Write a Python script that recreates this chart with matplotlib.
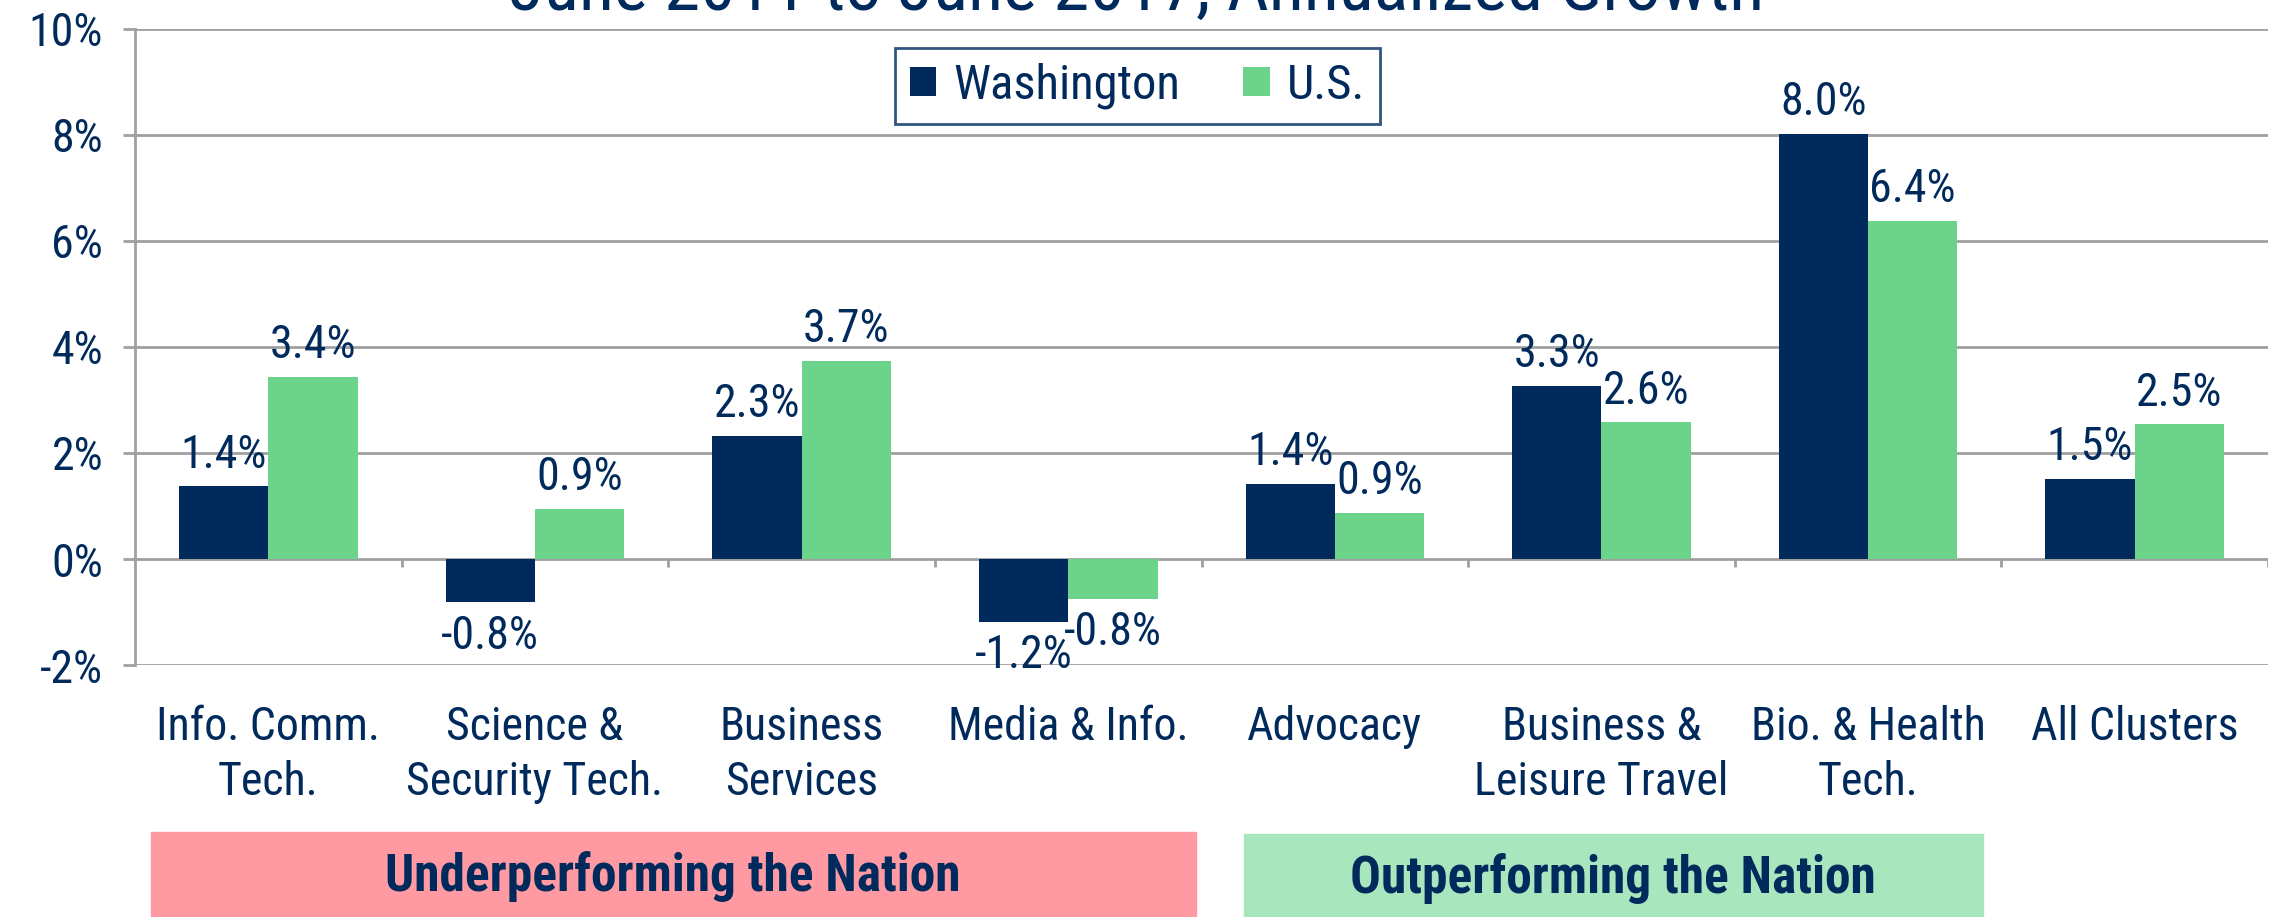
import matplotlib
matplotlib.use("Agg")
import matplotlib.pyplot as plt
import numpy as np
from matplotlib.patches import Rectangle
from matplotlib import font_manager

names = sorted({f.name for f in font_manager.fontManager.ttflist})
narrow = [n for n in ["Roboto Condensed", "Liberation Sans Narrow", "DejaVu Sans Condensed"] if n in names]

plt.rcParams['font.family'] = narrow + ['DejaVu Sans']
plt.rcParams['font.stretch'] = 'condensed'

navy = "#002A5C"
green = "#6CD48A"
grid = "#A0A0A0"

categories = ["Info. Comm.\nTech.", "Science &\nSecurity Tech.", "Business\nServices",
              "Media & Info.", "Advocacy", "Business &\nLeisure Travel",
              "Bio. & Health\nTech.", "All Clusters"]
washington = [1.37, -0.82, 2.33, -1.18, 1.42, 3.26, 8.02, 1.51]
us = [3.44, 0.94, 3.74, -0.76, 0.87, 2.58, 6.38, 2.54]

fig = plt.figure(figsize=(22.73, 9.17), dpi=100)
ax = fig.add_axes([0.0594, 0.2748, 0.9384, 0.6936])

x = np.arange(len(categories))
w = 0.335
b1 = ax.bar(x - w / 2, washington, w, color=navy, label="Washington", zorder=3)
b2 = ax.bar(x + w / 2, us, w, color=green, label="U.S.", zorder=3)

fs = 33
for bars, vals in [(b1, washington), (b2, us)]:
    for r, v in zip(bars, vals):
        cx = r.get_x() + r.get_width() / 2
        if v >= 0:
            ax.annotate(f"{v:.1f}%", (cx, v), xytext=(0, 7), textcoords="offset points",
                        ha="center", va="bottom", fontsize=fs, color=navy, zorder=4)
        else:
            ax.annotate(f"{v:.1f}%", (cx, v), xytext=(0, -8), textcoords="offset points",
                        ha="center", va="top", fontsize=fs, color=navy, zorder=4)

ax.set_xlim(-0.5, len(categories) - 0.5)
ax.set_ylim(-2, 10)
ax.set_yticks(np.arange(-2, 11, 2))
ax.set_yticklabels([f"{t}%" for t in range(-2, 11, 2)], fontsize=fs, color=navy)
ax.yaxis.grid(True, color=grid, linewidth=2, zorder=0)
ax.tick_params(axis="y", length=9, width=2, color=grid, pad=14)
ax.set_xticks(x)
ax.set_xticklabels(categories, fontsize=fs, color=navy, linespacing=1.3)
ax.tick_params(axis="x", length=0, pad=29)
for s in ["top", "right", "bottom"]:
    ax.spines[s].set_visible(False)
ax.spines["left"].set_color(grid)
ax.spines["left"].set_linewidth(2)
ax.vlines(np.arange(len(categories)) + 0.5, -0.15, 0, color=grid, linewidth=2, zorder=2)

leg = ax.legend(loc="upper center", bbox_to_anchor=(0.47, 0.97), ncol=2, fontsize=35,
                frameon=True, fancybox=False, handlelength=0.55, handleheight=0.55,
                handletextpad=0.35, columnspacing=1.3, borderpad=0.3, borderaxespad=0)
leg.get_frame().set_edgecolor(navy)
leg.get_frame().set_linewidth(2)
for t in leg.get_texts():
    t.set_color(navy)

fig.text(0.5, 1.01, "June 2011 to June 2017, Annualized Growth", ha="center", va="center",
         fontsize=52, color=navy)

fig.patches.append(Rectangle((151 / 2273, 1 - 916 / 917), (1196 - 151) / 2273, 84 / 917,
                             transform=fig.transFigure, color="#FF9AA2", zorder=0))
fig.patches.append(Rectangle((1244 / 2273, 0), (1983 - 1244) / 2273, 83 / 917,
                             transform=fig.transFigure, color="#A8E6BD", zorder=0))
fig.text(673 / 2273, 1 - 877 / 917, "Underperforming the Nation", ha="center", va="center",
         fontsize=37, fontweight="bold", color=navy)
fig.text(1613 / 2273, 1 - 879 / 917, "Outperforming the Nation", ha="center", va="center",
         fontsize=37, fontweight="bold", color=navy)

fig.savefig("out.png", dpi=100)
